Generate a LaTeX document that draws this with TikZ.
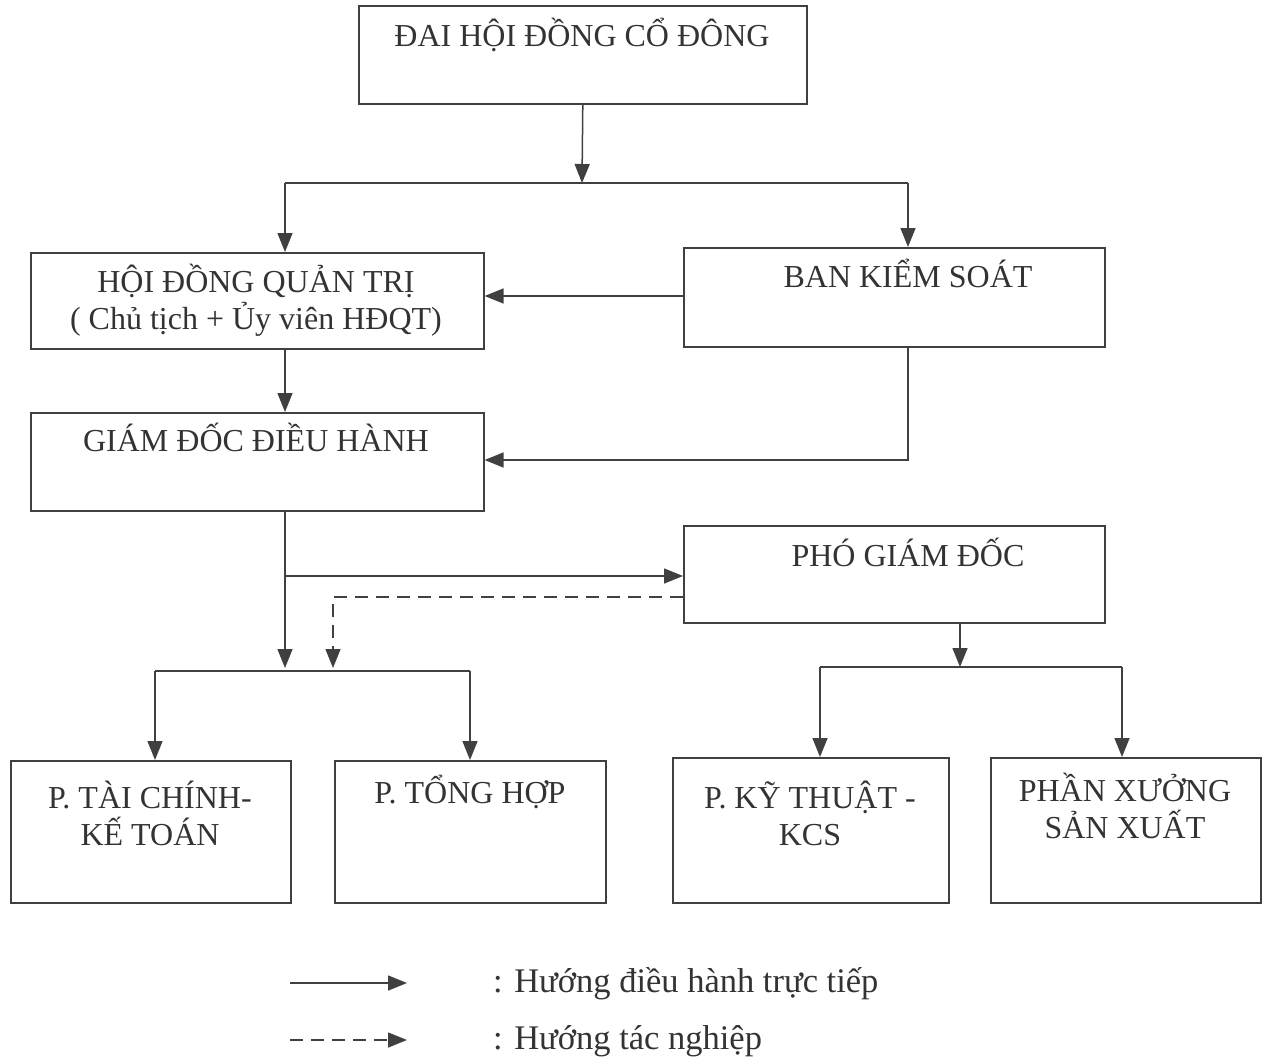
\documentclass[tikz,border=0pt]{standalone}
\usepackage{fontspec}
\setmainfont{Liberation Serif}
\usetikzlibrary{arrows.meta}
\begin{document}
\begin{tikzpicture}[x=1pt,y=-1pt,
  box/.style={draw=black!75, line width=1.6pt, inner sep=0pt, anchor=north west},
  lbl/.style={font=\fontsize{32}{37}\selectfont, text=black!80, align=center, inner sep=0pt},
  lgd/.style={font=\fontsize{34.5}{40}\selectfont, text=black!80, inner sep=0pt},
  arr/.style={draw=black!75, line width=1.5pt, -{Triangle[length=19pt,width=15pt]}},
  ln/.style={draw=black!75, line width=1.5pt},
  dsh/.style={arr, dash pattern=on 13pt off 8pt}]
\useasboundingbox (0,0) rectangle (1270,1057);
% boxes
\node[box, minimum width=448, minimum height=98] (dh) at (358,5) {};
\node[box, minimum width=453, minimum height=96] (hd) at (30,252) {};
\node[box, minimum width=421, minimum height=99] (bks) at (683,247) {};
\node[box, minimum width=453, minimum height=98] (gd) at (30,412) {};
\node[box, minimum width=421, minimum height=97] (pgd) at (683,525) {};
\node[box, minimum width=280, minimum height=142] (tc) at (10,760) {};
\node[box, minimum width=271, minimum height=142] (th) at (334,760) {};
\node[box, minimum width=276, minimum height=145] (kt) at (672,757) {};
\node[box, minimum width=270, minimum height=145] (px) at (990,757) {};
% texts
\node[lbl, anchor=base] (dhT) at (582,47) {ĐAI HỘI ĐỒNG CỔ ĐÔNG};
\node[lbl] (hdT) at (256,300) {HỘI ĐỒNG QUẢN TRỊ\\( Chủ tịch + Ủy viên HĐQT)};
\node[lbl, anchor=base] (bksT) at (908,287) {BAN KIỂM SOÁT};
\node[lbl, anchor=base] (gdT) at (256,451) {GIÁM ĐỐC ĐIỀU HÀNH};
\node[lbl, anchor=base] (pgdT) at (908,566) {PHÓ GIÁM ĐỐC};
\node[lbl] (tcT) at (150,813) {P. TÀI CHÍNH-\\KẾ TOÁN};
\node[lbl, anchor=base] (thT) at (470,803) {P. TỔNG HỢP};
\node[lbl] (ktT) at (810,813) {P. KỸ THUẬT -\\KCS};
\node[lbl] (pxT) at (1125,806) {PHẦN XƯỞNG\\SẢN XUẤT};
% connectors
\coordinate (j1) at (582,183);
\coordinate (j1l) at (285,183);
\coordinate (j1r) at (908,183);
\draw[arr] (dh.south) -- (j1);
\draw[ln] (j1l) -- (j1r);
\draw[arr] (j1l) -- (j1l |- hd.north);
\draw[arr] (j1r) -- (j1r |- bks.north);
\draw[arr] (bks.west |- 0,296) -- (hd.east |- 0,296);
\draw[arr] (285,348) -- (285,412);
\coordinate (b2) at (908,460);
\draw[arr] (bks.south -| b2) -- (b2) -- (gd.east |- b2);
\coordinate (j2) at (285,668);
\draw[arr] (gd.south -| j2) -- (j2);
\coordinate (j2a) at (285,576);
\draw[arr] (j2a) -- (pgd.west |- j2a);
\coordinate (d1) at (333,597);
\draw[dsh] (pgd.west |- d1) -- (d1) -- (333,668);
\coordinate (j3l) at (155,671);
\coordinate (j3r) at (470,671);
\draw[ln] (j3l) -- (j3r);
\draw[arr] (j3l) -- (j3l |- tc.north);
\draw[arr] (j3r) -- (j3r |- th.north);
\coordinate (j4) at (960,667);
\draw[arr] (pgd.south -| j4) -- (j4);
\coordinate (j4l) at (820,667);
\coordinate (j4r) at (1122,667);
\draw[ln] (j4l) -- (j4r);
\draw[arr] (j4l) -- (j4l |- kt.north);
\draw[arr] (j4r) -- (j4r |- px.north);
% legend
\coordinate (l1a) at (290,983);
\coordinate (l1b) at (407,983);
\coordinate (l2a) at (290,1040);
\coordinate (l2b) at (407,1040);
\draw[arr] (l1a) -- (l1b);
\draw[dsh] (l2a) -- (l2b);
\node[lgd, anchor=base west] (lg1) at (493,992) {: Hướng điều hành trực tiếp};
\node[lgd, anchor=base west] (lg2) at (493,1049) {: Hướng tác nghiệp};
\end{tikzpicture}
\end{document}
